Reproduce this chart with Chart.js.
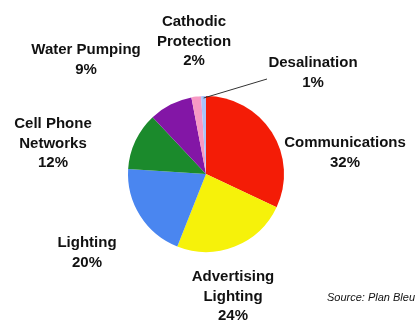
<!DOCTYPE html>
<html>
<head>
<meta charset="utf-8">
<script src="https://cdn.jsdelivr.net/npm/chart.js@4"></script>
<style>
  html, body { margin: 0; padding: 0; background: #fff; }
  #wrap { width: 420px; height: 320px; }
</style>
</head>
<body>
<div id="wrap"><canvas id="myChart" width="420" height="320"></canvas></div>
<script>
// data
var names = ['Communications', 'Advertising Lighting', 'Lighting', 'Cell Phone Networks', 'Water Pumping', 'Cathodic Protection', 'Desalination'];
var shares = [32, 24, 20, 12, 9, 2, 1];
var labelLines = [['Communications'], ['Advertising', 'Lighting'], ['Lighting'], ['Cell Phone', 'Networks'], ['Water Pumping'], ['Cathodic', 'Protection'], ['Desalination']];
var colors = ['#f41c06', '#f6f20a', '#4a86f0', '#1b8a2c', '#8316a6', '#f79ac4', '#a9c4fb'];

// where each label block sits (centre x, first line y), relative to page
var labelPos = [[345, 143], [233, 277], [87, 243], [53, 124], [86, 50], [194, 22], [313, 63]];

var labelsPlugin = {
  id: 'sliceLabels',
  afterDraw: function(c){
    var ctx = c.ctx;
    var arcs = c.getDatasetMeta(0).data;
    ctx.save();
    // leader line for the thin slice
    var a = arcs[6];
    var mid = (a.startAngle + a.endAngle) / 2;
    ctx.strokeStyle = '#333';
    ctx.lineWidth = 1;
    ctx.beginPath();
    ctx.moveTo(a.x + Math.cos(mid) * (a.outerRadius - 2), a.y + Math.sin(mid) * (a.outerRadius - 2));
    ctx.lineTo(267, 79);
    ctx.stroke();

    ctx.fillStyle = '#111';
    ctx.textAlign = 'center';
    ctx.textBaseline = 'middle';
    ctx.font = 'bold 15px "Liberation Sans", Arial, sans-serif';
    for (var i = 0; i < shares.length; i++) {
      var lines = labelLines[i].concat([shares[i] + '%']);
      for (var j = 0; j < lines.length; j++) {
        ctx.fillText(lines[j], labelPos[i][0], labelPos[i][1] + j * 19.5);
      }
    }
    ctx.font = 'italic 11px "Liberation Sans", Arial, sans-serif';
    ctx.textAlign = 'left';
    ctx.fillText('Source: Plan Bleu', 327, 298);
    ctx.restore();
  }
};

var ctx = document.getElementById('myChart').getContext('2d');
var myChart = new Chart(ctx, {
  type: 'pie',
  data: {
    labels: names,
    datasets: [{
      data: shares,
      backgroundColor: colors,
      borderWidth: 0
    }]
  },
  options: {
    responsive: false,
    animation: false,
    layout: { padding: { left: 128, right: 136, top: 96, bottom: 68 } },
    plugins: {
      legend: { display: false },
      tooltip: { enabled: false }
    }
  },
  plugins: [labelsPlugin]
});
</script>
</body>
</html>
